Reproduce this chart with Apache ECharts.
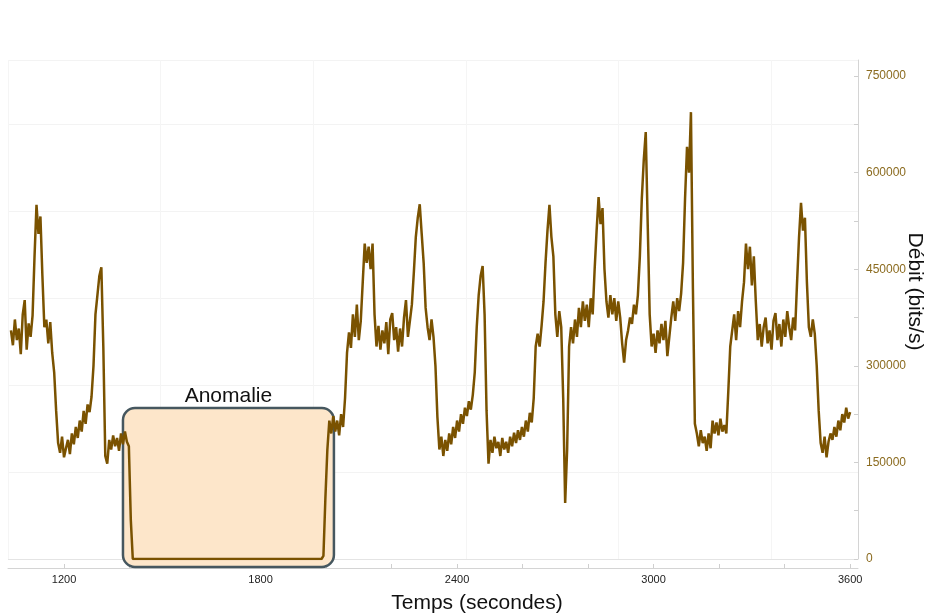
<!DOCTYPE html>
<html>
<head>
<meta charset="utf-8">
<script src="https://cdn.jsdelivr.net/npm/echarts@6/dist/echarts.min.js"></script>
<style>html,body{margin:0;padding:0;background:#fff}#c{width:929px;height:616px}</style>
</head>
<body>
<div id="c"></div>
<script>
// Sample grid: first sample time and sampling step (seconds)
const startTime = 1038;
const sampleStep = 6;

// Débit, in kbit/s, one value per sample
const debitKbits = [
  355, 332, 372, 340, 358, 318,
  380, 402, 325, 366, 345, 378,
  470, 550, 505, 532, 440,
  360, 372, 335, 368, 320, 290, 230, 180, 165, 190, 158, 172,
  185, 163, 195, 178, 205, 188, 215, 198, 230, 210, 240, 228, 252,
  300, 380, 410,
  440, 453, 330, 160, 148,
  185, 170, 192, 175, 188, 168, 195, 178, 198, 182,
  175, 60,
  0,0,0,0,0,0,0,0,0,0,0,0,0,0,0,0,0,0,0,0,
  0,0,0,0,0,0,0,0,0,0,0,0,0,0,0,0,0,0,0,0,
  0,0,0,0,0,0,0,0,0,0,0,0,0,0,0,0,0,0,0,0,
  0,0,0,0,0,0,0,0,0,0,0,0,0,0,0,0,0,0,0,0,
  0,0,0,0,0,0,0,0,0,0,0,0,0,0,0,0,0,
  5, 95, 170, 215,
  195, 222, 198, 215, 192, 225, 205,
  250, 320,
  352, 328, 380, 345, 395, 340, 370,
  430, 490, 460, 485, 450, 490, 380,
  330, 362, 325, 355, 335, 368, 318, 372, 382, 340, 360, 322, 358, 330, 375, 402, 345, 370,
  395, 445, 500, 530, 551, 505, 460, 390,
  360, 340, 372, 345, 300, 220,
  170, 190, 160, 185, 168,
  195, 178, 205, 188, 215, 198, 225, 210, 235, 222, 245, 232, 255,
  290, 360, 410, 440, 455, 380, 230, 148,
  185, 165, 190, 172, 182, 160, 188, 170,
  182, 165, 190, 175, 196, 180, 200, 185, 205, 190, 215, 198, 227, 212,
  250, 330, 350, 330, 362, 400, 460,
  510, 550, 500, 470, 380, 345, 385, 360,
  250, 87, 170, 330, 360, 335, 372, 345,
  390, 360, 400, 370, 395, 360, 405, 380,
  450, 510, 562, 520, 545, 450,
  400, 375, 410, 380, 405, 370, 400, 375,
  335, 305, 340, 355, 375, 365, 395, 380, 410,
  470, 560, 620, 663, 520, 380, 330, 350,
  320, 355, 335, 365, 340, 370, 315, 345, 375, 400, 370, 405, 385, 412,
  460, 560, 640, 600, 694, 420, 210,
  195, 175, 200, 180, 190, 168, 195, 172, 215, 195, 212, 192, 218, 198, 208, 195,
  260, 330, 355, 380, 340, 385, 360,
  400, 430, 490, 450, 485, 425, 470, 400,
  340, 365, 330, 360, 375, 335, 355, 325, 370, 382, 340, 365, 330, 372, 345, 385, 360, 340, 375, 355,
  430, 500, 553, 510, 530, 430,
  360, 345, 372, 350, 300, 230,
  180, 165, 190, 158, 182,
  195, 185, 205, 190, 215, 200, 225, 212, 235, 218, 228
];

// Axis ticks
const xTickLabels = [1200, 1800, 2400, 3000, 3600];
const xTickMarks = [1200, 1400, 1600, 1800, 2000, 2200, 2400, 2600, 2800, 3000, 3200, 3400, 3600];
const yTickLabels = [0, 150000, 300000, 450000, 600000, 750000];
const yTickMarks = [0, 75000, 150000, 225000, 300000, 375000, 450000, 525000, 600000, 675000, 750000];

// Anomaly annotation (time range and débit range of the box)
const anomalyLabel = 'Anomalie';
const anomalyTime = [1380, 2024];
const anomalyDebit = [-12400, 234500];

const xRange = [1029, 3624];
const yRange = [0, 775000];

const seriesData = debitKbits.map((v, i) => [startTime + i * sampleStep, v * 1000]);

const FONT = "'Liberation Sans', Arial, sans-serif";
const plain = v => String(v);
const chart = echarts.init(document.getElementById('c'), null, {renderer: 'canvas'});

const option = {
  animation: false,
  backgroundColor: '#ffffff',
  grid: {left: 8, right: 71, top: 60, bottom: 57, containLabel: false, outerBoundsMode: 'none'},
  xAxis: [
    {
      type: 'value', min: xRange[0], max: xRange[1], position: 'bottom', offset: 9,
      axisLine: {show: true, onZero: false, lineStyle: {color: '#d4d4d4', width: 1}},
      axisTick: {show: true, inside: true, length: 4, customValues: xTickMarks, lineStyle: {color: '#cfcfcf'}},
      axisLabel: {customValues: xTickLabels, formatter: plain, color: '#222', fontSize: 11, margin: 6, fontFamily: FONT},
      splitLine: {show: false},
      name: 'Temps (secondes)', nameLocation: 'middle', nameGap: 25, nameMoveOverlap: false,
      nameTextStyle: {fontSize: 21, color: '#111', fontFamily: FONT, padding: [0, 0, 0, 88]}
    },
    {
      type: 'value', min: 0, max: 5.57, interval: 1, position: 'bottom',
      axisLine: {show: false}, axisTick: {show: false}, axisLabel: {show: false},
      splitLine: {show: true, lineStyle: {color: '#f5f5f5', width: 1}}
    }
  ],
  yAxis: [
    {
      type: 'value', min: yRange[0], max: yRange[1], position: 'right',
      axisLine: {show: true, onZero: false, lineStyle: {color: '#d4d4d4', width: 1}},
      axisTick: {show: true, inside: true, length: 4, customValues: yTickMarks, lineStyle: {color: '#cfcfcf'}},
      axisLabel: {customValues: yTickLabels, formatter: plain, color: '#8b6b1f', fontSize: 12, margin: 8, fontFamily: FONT},
      splitLine: {show: false},
      name: 'Débit (bits/s)', nameLocation: 'middle', nameRotate: -90, nameGap: 46, nameMoveOverlap: false,
      nameTextStyle: {fontSize: 21, color: '#111', fontFamily: FONT, padding: [0, 36, 0, 0]}
    },
    {
      type: 'value', min: 0, max: 5.736, interval: 1, position: 'left',
      axisLine: {show: false}, axisTick: {show: false}, axisLabel: {show: false},
      splitLine: {show: true, lineStyle: {color: '#f3f3f3', width: 1}}
    }
  ],
  series: [{
    type: 'line',
    xAxisIndex: 0, yAxisIndex: 0,
    data: seriesData,
    showSymbol: false,
    symbol: 'none',
    sampling: false,
    z: 5,
    lineStyle: {color: '#7a5200', width: 2.5, join: 'bevel'}
  }]
};

chart.setOption(option);

const topLeft = chart.convertToPixel({xAxisIndex: 0, yAxisIndex: 0}, [anomalyTime[0], anomalyDebit[1]]);
const botRight = chart.convertToPixel({xAxisIndex: 0, yAxisIndex: 0}, [anomalyTime[1], anomalyDebit[0]]);
const zeroLeft = chart.convertToPixel({xAxisIndex: 0, yAxisIndex: 0}, [xRange[0], 0]);
const zeroRight = chart.convertToPixel({xAxisIndex: 0, yAxisIndex: 0}, [xRange[1], 0]);

chart.setOption({
  graphic: [
    {
      type: 'line', z: 0, silent: true,
      shape: {x1: zeroLeft[0], y1: zeroLeft[1] + 0.5, x2: zeroRight[0], y2: zeroRight[1] + 0.5},
      style: {stroke: '#e4e4e4', lineWidth: 1}
    },
    {
      type: 'rect', z: 1, silent: true,
      shape: {x: topLeft[0], y: topLeft[1], width: botRight[0] - topLeft[0], height: botRight[1] - topLeft[1], r: 12},
      style: {fill: '#fde6ca', stroke: '#46575f', lineWidth: 2.5}
    },
    {
      type: 'text', z: 6, silent: true,
      style: {
        text: anomalyLabel,
        x: (topLeft[0] + botRight[0]) / 2,
        y: topLeft[1] - 12,
        align: 'center', verticalAlign: 'middle',
        textAlign: 'center', textVerticalAlign: 'middle',
        font: "21px 'Liberation Sans', Arial, sans-serif",
        fill: '#111'
      }
    }
  ]
});
</script>
</body>
</html>
